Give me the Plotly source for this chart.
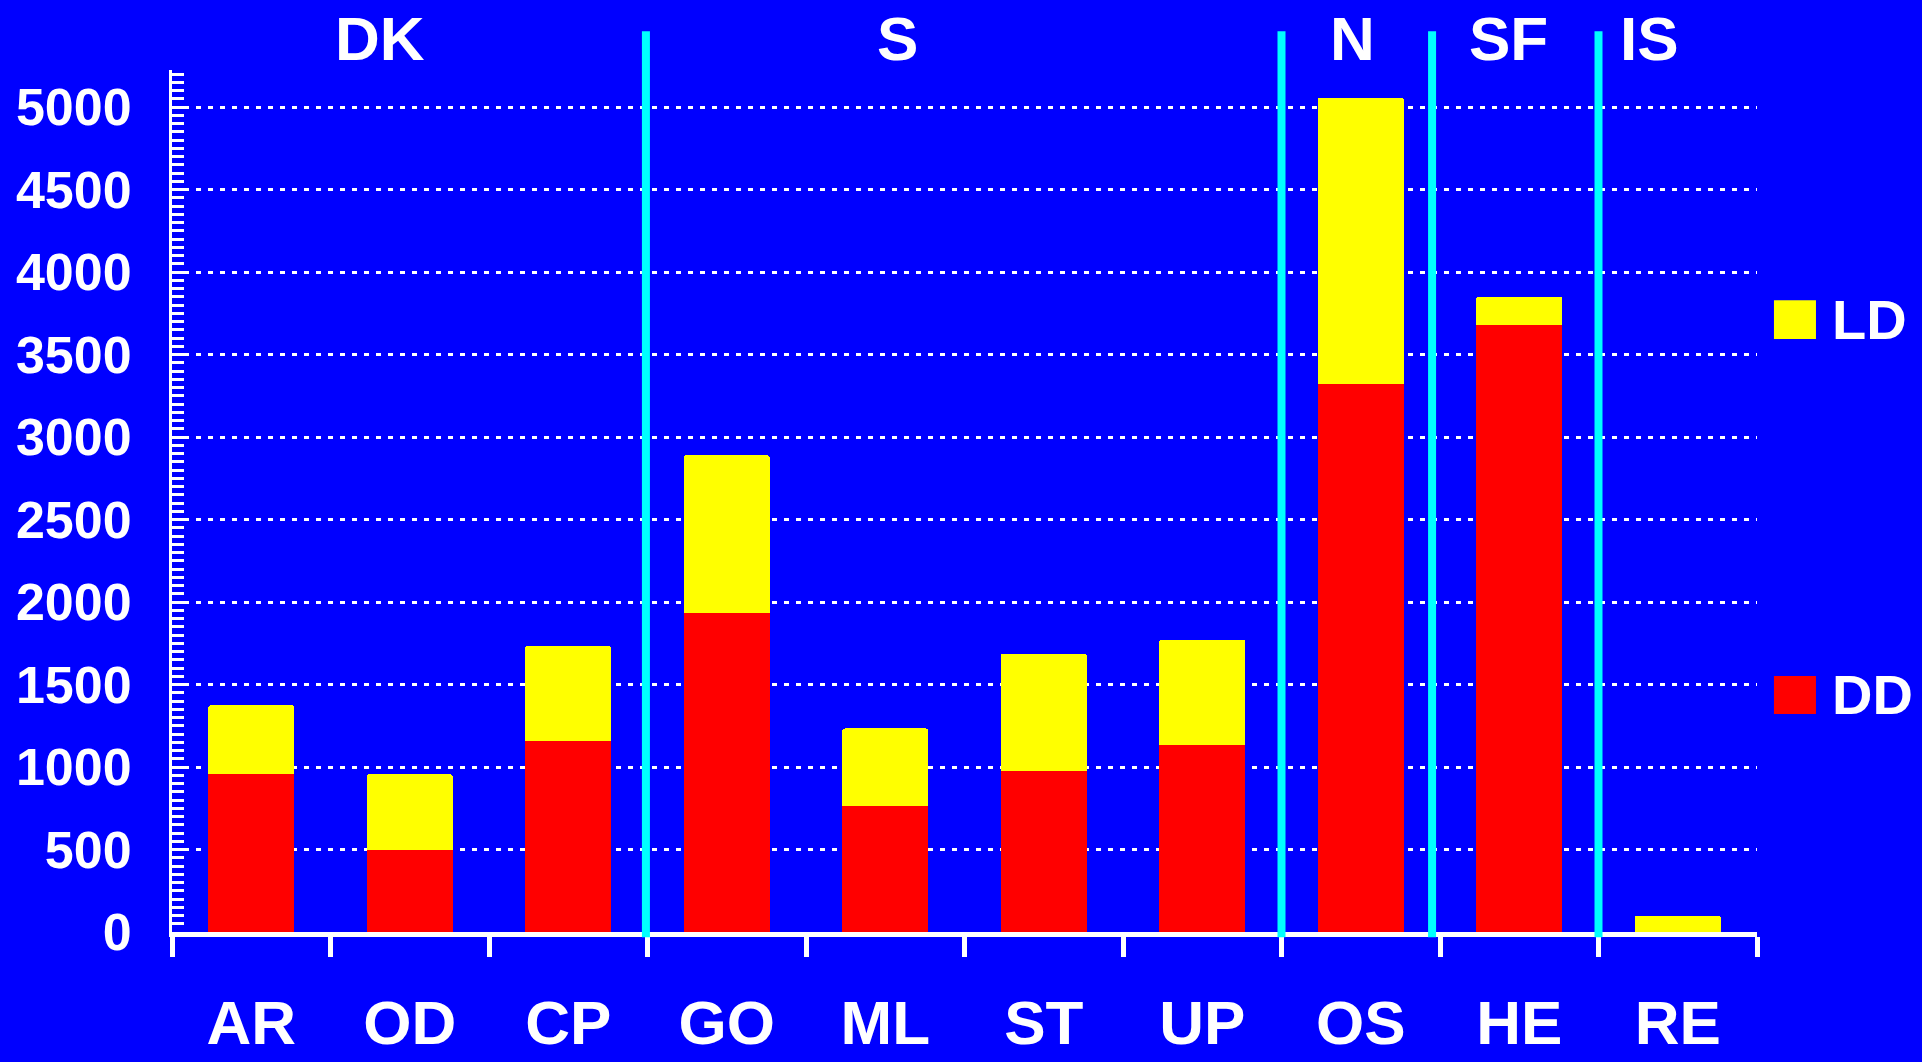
import plotly.graph_objects as go

categories = ["AR", "OD", "CP", "GO", "ML", "ST", "UP", "OS", "HE", "RE"]
dd_values = [960, 500, 1155, 1935, 762, 975, 1132, 3320, 3677, 0]
ld_values = [415, 457, 580, 955, 472, 713, 640, 1738, 175, 100]
series_names = ["DD", "LD"]
series_colors = ["#FF0000", "#FFFF00"]

group_labels = ["DK", "S", "N", "SF", "IS"]
group_label_pos = [0.81, 4.08, 6.95, 7.93, 8.82]
separator_pos = [2.49, 6.5, 7.45, 8.5]

y_ticks = list(range(0, 5001, 500))

FONT = "Liberation Sans, Arial, Helvetica, sans-serif"
BG = "#0000FF"

fig = go.Figure()
for name, vals, col in zip(series_names, [dd_values, ld_values], series_colors):
    fig.add_trace(go.Bar(
        x=categories, y=vals, name=name,
        marker=dict(color=col, line=dict(width=0)),
        showlegend=False,
    ))

# separator lines
for xp in separator_pos:
    fig.add_shape(type="line", xref="x", yref="paper",
                  x0=xp, x1=xp, y0=-0.006, y1=1.045,
                  line=dict(color="#00FFFF", width=8), layer="above")

# group labels
for lab, xp in zip(group_labels, group_label_pos):
    fig.add_annotation(text=lab, x=xp, xref="x", y=1.037, yref="paper",
                       showarrow=False, xanchor="center", yanchor="middle",
                       font=dict(family=FONT, size=62, color="white", weight="bold"))

# custom legend (large swatches)
legend_y = {"LD": (0.733, 0.688, 0.710), "DD": (0.297, 0.253, 0.275)}
for name, col in zip(series_names, series_colors):
    y_top, y_bot, y_mid = legend_y[name]
    fig.add_shape(type="rect", xref="paper", yref="paper",
                  x0=1.0107, x1=1.0372, y0=y_bot, y1=y_top,
                  fillcolor=col, line=dict(width=0))
    fig.add_annotation(text=name, x=1.046, xref="paper", y=y_mid, yref="paper",
                       showarrow=False, xanchor="left", yanchor="middle",
                       font=dict(family=FONT, size=56, color="white", weight="bold"))

fig.update_layout(
    width=1922, height=1062,
    margin=dict(l=172, r=165, t=70, b=130, pad=0, autoexpand=False),
    paper_bgcolor=BG, plot_bgcolor=BG,
    barmode="stack", bargap=0.457, barcornerradius=3,
    font=dict(family=FONT, color="white", weight="bold"),
    showlegend=False,
)
fig.update_xaxes(
    type="category", categoryorder="array", categoryarray=categories,
    automargin=False,
    showline=True, linecolor="white", linewidth=5,
    ticks="outside", tickson="boundaries", ticklen=20, tickwidth=5, tickcolor="white",
    tickfont=dict(family=FONT, size=62, color="white", weight="bold"),
    ticklabelstandoff=33,
    showgrid=False, zeroline=False,
)
fig.update_yaxes(
    range=[0, 5225], automargin=False,
    tickvals=y_ticks, ticktext=[str(v) for v in y_ticks],
    showline=True, linecolor="white", linewidth=3,
    ticks="inside", ticklen=16, tickwidth=3, tickcolor="white",
    minor=dict(dtick=50, tick0=0, ticks="inside", ticklen=12, tickwidth=3,
               tickcolor="white", showgrid=False),
    tickfont=dict(family=FONT, size=52, color="white", weight="bold"),
    ticklabelstandoff=27,
    showgrid=True, gridcolor="white", gridwidth=3, griddash="5px,7px",
    zeroline=False,
)

fig.write_html("out.html", config={"displayModeBar": False},
               post_script="document.body.style.margin='0';document.body.style.overflow='hidden';")
